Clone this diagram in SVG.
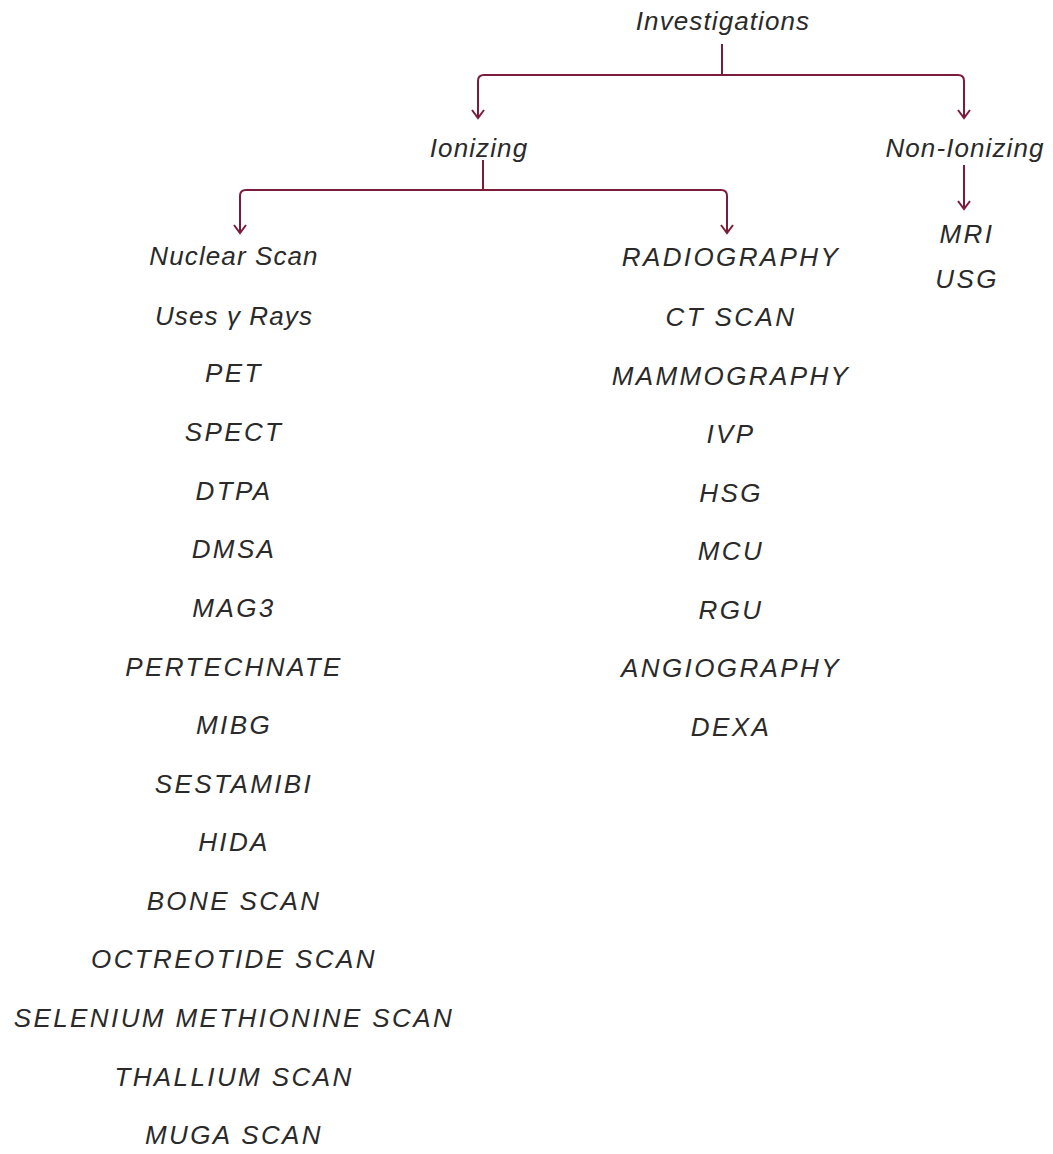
<svg xmlns="http://www.w3.org/2000/svg" width="1053" height="1154" viewBox="0 0 1053 1154">
<defs>
<style>
.t{font-family:"Liberation Sans",Arial,sans-serif;font-style:italic;font-size:26px;fill:#2a2a2a;text-anchor:middle;letter-spacing:1.1px}
.u{letter-spacing:2.4px}
</style>
</defs>
<rect width="1053" height="1154" fill="#fff"/>
<g id="connectors">
<path d="M722,44 V75 H484 Q478,75 478,81 V118" fill="none" stroke="#7b1c3b" stroke-width="2"/>
<path d="M722,75 H958 Q964,75 964,81 V118" fill="none" stroke="#7b1c3b" stroke-width="2"/>
<path d="M472,110 L478,118 L484,110 M958,110 L964,118 L970,110" fill="none" stroke="#7b1c3b" stroke-width="2"/>
<path d="M483,160 V190 H246 Q240,190 240,196 V233" fill="none" stroke="#7b1c3b" stroke-width="2"/>
<path d="M483,190 H721 Q727,190 727,196 V233" fill="none" stroke="#7b1c3b" stroke-width="2"/>
<path d="M234,225 L240,233 L246,225 M721,225 L727,233 L733,225" fill="none" stroke="#7b1c3b" stroke-width="2"/>
<path d="M964,165 V209 M958,201 L964,209 L970,201" fill="none" stroke="#7b1c3b" stroke-width="2"/>
</g>
<g id="investigations"><text class="t" x="723" y="30">Investigations</text></g>
<g id="ionizing"><text class="t" x="479" y="157">Ionizing</text></g>
<g id="non-ionizing"><text class="t" x="965" y="157">Non-Ionizing</text></g>
<g id="non-ionizing-list"><text class="t u" x="967" y="243">MRI</text><text class="t u" x="967" y="288">USG</text></g>
<g id="nuclear-scan">
<text class="t" x="234" y="265">Nuclear Scan</text>
<text class="t" x="234" y="325">Uses γ Rays</text>
<text class="t u" x="234" y="382">PET</text>
<text class="t u" x="234" y="441">SPECT</text>
<text class="t u" x="234" y="500">DTPA</text>
<text class="t u" x="234" y="558">DMSA</text>
<text class="t u" x="234" y="617">MAG3</text>
<text class="t u" x="234" y="676">PERTECHNATE</text>
<text class="t u" x="234" y="734">MIBG</text>
<text class="t u" x="234" y="793">SESTAMIBI</text>
<text class="t u" x="234" y="851">HIDA</text>
<text class="t u" x="234" y="910">BONE SCAN</text>
<text class="t u" x="234" y="968">OCTREOTIDE SCAN</text>
<text class="t u" x="234" y="1027">SELENIUM METHIONINE SCAN</text>
<text class="t u" x="234" y="1086">THALLIUM SCAN</text>
<text class="t u" x="234" y="1144">MUGA SCAN</text>
</g>
<g id="radiography">
<text class="t u" x="731" y="266">RADIOGRAPHY</text>
<text class="t u" x="731" y="326">CT SCAN</text>
<text class="t u" x="731" y="385">MAMMOGRAPHY</text>
<text class="t u" x="731" y="443">IVP</text>
<text class="t u" x="731" y="502">HSG</text>
<text class="t u" x="731" y="560">MCU</text>
<text class="t u" x="731" y="619">RGU</text>
<text class="t u" x="731" y="677">ANGIOGRAPHY</text>
<text class="t u" x="731" y="736">DEXA</text>
</g>
</svg>
